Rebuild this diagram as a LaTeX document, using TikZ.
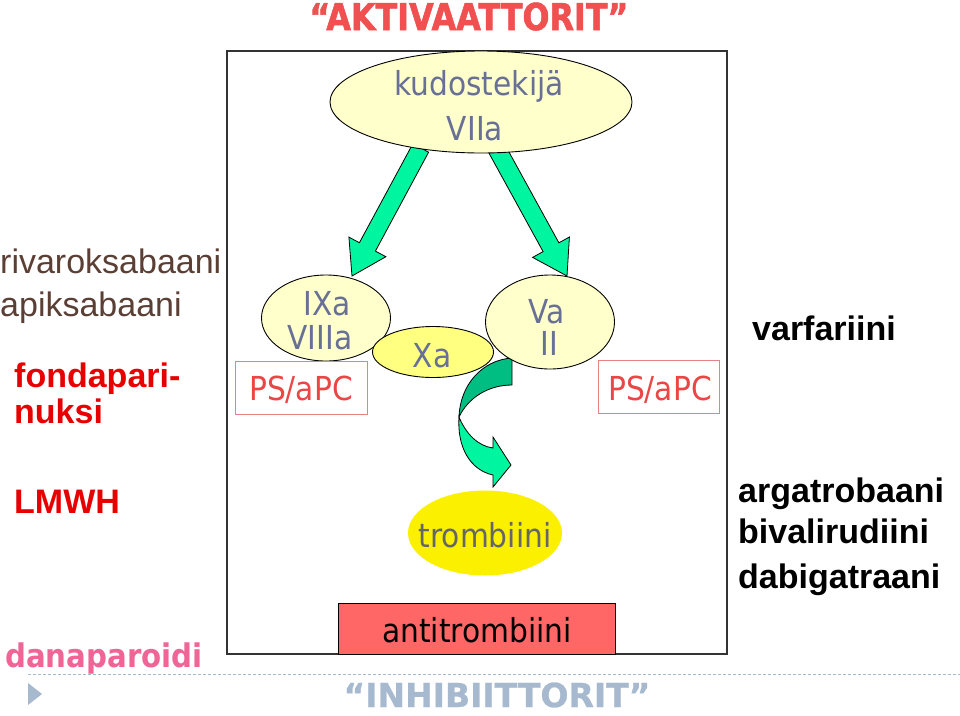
\documentclass[tikz,border=0pt]{standalone}
\usepackage{fontspec}
\setmainfont{Liberation Sans}
\newfontfamily\tahfont[FakeStretch=0.9]{DejaVu Sans}
\newfontfamily\headfont[FakeStretch=0.86, BoldFeatures={FakeBold=1.5}]{DejaVu Sans}
\newfontfamily\inhfont[BoldFeatures={FakeBold=0.8}]{DejaVu Sans}
\usetikzlibrary{shapes.geometric}
\definecolor{actred}{RGB}{240,80,80}
\definecolor{inhib}{RGB}{166,185,206}
\definecolor{slate}{RGB}{104,112,150}
\definecolor{brownt}{RGB}{91,63,53}
\definecolor{redb}{RGB}{232,0,0}
\definecolor{pinkt}{RGB}{240,100,150}
\definecolor{psred}{RGB}{235,70,70}
\definecolor{psborder}{RGB}{230,130,130}
\definecolor{lightyel}{RGB}{255,255,204}
\definecolor{xayel}{RGB}{255,255,128}
\definecolor{tromyel}{RGB}{250,240,0}
\definecolor{mint}{RGB}{0,245,160}
\definecolor{darkmint}{RGB}{0,190,130}
\definecolor{antired}{RGB}{255,102,102}
\begin{document}
\begin{tikzpicture}[x=1pt,y=-1pt,
  ell/.style={ellipse, draw=black, line width=0.9pt, inner sep=0},
  tah/.style={font=\tahfont\fontsize{33}{36}\selectfont, text=slate, anchor=base, inner sep=0},
  side/.style={font=\fontsize{34}{40}\selectfont, anchor=base west, inner sep=0},
  sideb/.style={font=\bfseries\fontsize{34}{40}\selectfont, anchor=base west, inner sep=0},
  psbox/.style={draw=psborder, line width=0.8pt, minimum height=53pt, inner sep=0},
  blockarrow/.style={fill=mint, draw=black, line width=0.8pt, line join=miter}]
\useasboundingbox (0,0) rectangle (960,715);
\fill[white] (0,0) rectangle (960,715);

% frame
\draw[line width=1.3pt, draw=black!80] (227,51) rectangle (727,654);

% block arrows
\draw[blockarrow] (412.8,143.8) -- (428.6,152.2) -- (375.4,251.1) -- (385.9,256.7) -- (352,276) -- (348.9,237.1) -- (359.4,242.7) -- cycle;
\draw[blockarrow] (489.1,153.4) -- (504.9,144.6) -- (558.9,242.8) -- (569.4,237.0) -- (567,276) -- (532.6,257.4) -- (543.1,251.6) -- cycle;

% curved arrow (behind the ellipses)
\draw[fill=darkmint, draw=black, line width=0.8pt] (512,358) .. controls (482,360) and (460,385) .. (459,417) .. controls (468,398) and (488,385) .. (512,385) -- cycle;
\draw[fill=mint, draw=black, line width=0.8pt] (459,417) .. controls (466,434) and (478,446) .. (493,448) -- (493,437) -- (511,465) -- (493,487) -- (493,475) .. controls (470,470) and (457,447) .. (459,417) -- cycle;

% top ellipse
\node[ell, fill=lightyel, minimum width=302pt, minimum height=102pt] (kt) at (481,102) {};
\node[tah] (kttext) at (479,95) {kudostekijä};
\node[tah] (viia) at (475,140) {VIIa};

% middle ellipses
\node[ell, fill=lightyel, minimum width=129pt, minimum height=86pt] (ix) at (326,318) {};
\node[ell, fill=xayel, minimum width=121pt, minimum height=51pt] (xa) at (433,352) {};
\node[ell, fill=lightyel, minimum width=129pt, minimum height=94pt] (va) at (550,322) {};
\node[tah] (ixt) at (327,315) {IXa};
\node[tah] (viiit) at (320,349) {VIIIa};
\node[tah] (xat) at (432,367) {Xa};
\node[tah] (vat) at (547,323) {Va};
\node[tah] (iit) at (549,355) {II};

% PS/aPC boxes
\node[psbox, minimum width=132pt] (ps1) at (301,387.5) {};
\node[psbox, minimum width=121pt] (ps2) at (658.5,387) {};
\node[tah, text=psred] (ps1t) at (301,400) {PS/aPC};
\node[tah, text=psred] (ps2t) at (660,400) {PS/aPC};

% trombiini
\node[ellipse, fill=tromyel, inner sep=0, minimum width=154pt, minimum height=85pt] (trom) at (485,533) {};
\node[tah, text=black!60] (tromt) at (485,547) {trombiini};

% antitrombiini
\node[draw=black, line width=0.9pt, fill=antired, minimum width=277pt, minimum height=51pt, inner sep=0] (anti) at (476.5,628.5) {};
\node[tah, text=black] (antit) at (477,642) {antitrombiini};

% titles
\node[font=\headfont\bfseries\fontsize{37}{40}\selectfont, text=actred, anchor=base, inner sep=0] (akt) at (469,30) {“AKTIVAATTORIT”};
\draw[inhib, line width=1pt, dash pattern=on 3pt off 2pt] (28,674) -- (960,674);
\fill[inhib] (28,683) -- (42,694) -- (28,705) -- cycle;
\node[font=\inhfont\bfseries\fontsize{33}{38}\selectfont, text=inhib, anchor=base, inner sep=0] (inh) at (497,707) {“INHIBIITTORIT”};

% left texts
\node[side, text=brownt] (riva) at (0,273) {rivaroksabaani};
\node[side, text=brownt] (apik) at (0,316) {apiksabaani};
\node[sideb, text=redb] (fond) at (14,387) {fondapari-};
\node[sideb, text=redb] (nuk) at (14,423) {nuksi};
\node[sideb, text=redb] (lmwh) at (14,513) {LMWH};
\node[font=\tahfont\bfseries\fontsize{32.5}{36}\selectfont, text=pinkt, anchor=base west, inner sep=0] (dana) at (5,667) {danaparoidi};

% right texts
\node[sideb, text=black] (varf) at (752,340) {varfariini};
\node[sideb, text=black] (arga) at (738,502) {argatrobaani};
\node[sideb, text=black] (biva) at (738,543) {bivalirudiini};
\node[sideb, text=black] (dabi) at (738,588) {dabigatraani};
\end{tikzpicture}
\end{document}
